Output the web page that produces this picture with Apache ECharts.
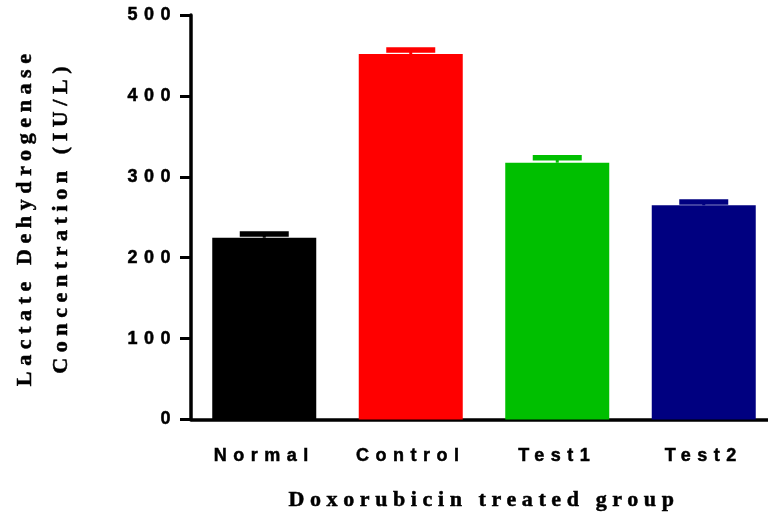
<!DOCTYPE html>
<html>
<head>
<meta charset="utf-8">
<style>html,body{margin:0;padding:0;background:#fff;}#chart{width:768px;height:516px;}</style>
<script src="https://cdn.jsdelivr.net/npm/echarts@6/dist/echarts.min.js"></script>
</head>
<body>
<div id="chart"></div>
<script>
// ---- data ----
const categories = ['Normal', 'Control', 'Test1', 'Test2'];
const meanValues = [224.7, 451.8, 317.4, 264.8];
const upperValues = [229.3, 456.7, 323.5, 268.8];
const barColors = ['#000000', '#FF0000', '#00BF00', '#000080'];
const yTicks = [0, 100, 200, 300, 400, 500];
const xTitle = 'Doxorubicin treated group';
const yTitle = 'Lactate Dehydrogenase\nConcentration (IU/L)';

// letter-spaced text like the reference (text stays real text)
(function () {
  const proto = CanvasRenderingContext2D.prototype;
  ['fillText', 'strokeText'].forEach(function (fn) {
    const orig = proto[fn];
    proto[fn] = function () {
      if ('letterSpacing' in this) {
        const prev = this.letterSpacing;
        this.letterSpacing = /22px/.test(this.font) ? '5.6px' : '6.5px';
        const r = orig.apply(this, arguments);
        this.letterSpacing = prev;
        return r;
      }
      return orig.apply(this, arguments);
    };
  });
})();

const sans = '"Liberation Sans", Arial, sans-serif';
const serif = '"Liberation Serif", "Times New Roman", serif';
const heavy = {textBorderColor: '#000', textBorderWidth: 0.5};

const chart = echarts.init(document.getElementById('chart'), null, {renderer: 'canvas'});
const option = {
  animation: false,
  backgroundColor: '#ffffff',
  grid: {left: 191, top: 15, width: 586, height: 404.5, containLabel: false, outerBoundsMode: 'none'},
  xAxis: {
    type: 'category',
    data: categories,
    name: xTitle,
    nameLocation: 'middle',
    nameGap: 69,
    nameTextStyle: Object.assign({fontFamily: serif, fontWeight: 'bold', fontSize: 22, lineHeight: 24, color: '#000'}, heavy),
    axisLine: {lineStyle: {color: '#000', width: 3.5}},
    axisTick: {alignWithLabel: true, length: 11, lineStyle: {color: '#000', width: 3}},
    axisLabel: Object.assign({interval: 0, margin: 28, fontFamily: sans, fontWeight: 'bold', fontSize: 18, lineHeight: 18, color: '#000'}, heavy),
    splitLine: {show: false}
  },
  yAxis: {
    type: 'value',
    min: yTicks[0],
    max: yTicks[yTicks.length - 1],
    interval: yTicks[1] - yTicks[0],
    name: yTitle,
    nameLocation: 'middle',
    nameRotate: 90,
    nameGap: 112,
    nameTextStyle: Object.assign({fontFamily: serif, fontWeight: 'bold', fontSize: 22, lineHeight: 36, color: '#000', align: 'center'}, heavy),
    axisLine: {show: true, lineStyle: {color: '#000', width: 3.5}},
    axisTick: {show: true, length: 11, lineStyle: {color: '#000', width: 3}},
    axisLabel: Object.assign({margin: 14, fontFamily: sans, fontWeight: 'bold', fontSize: 18, color: '#000'}, heavy),
    splitLine: {show: false}
  },
  series: [
    {
      type: 'bar',
      barWidth: 104,
      data: meanValues.map((v, i) => ({value: v, itemStyle: {color: barColors[i]}})),
      z: 2
    },
    {
      type: 'custom',
      z: 3,
      data: categories.map((c, i) => [i, meanValues[i], upperValues[i]]),
      renderItem: function (params, api) {
        const idx = api.value(0);
        const base = api.coord([idx, api.value(1)]);
        const top = api.coord([idx, api.value(2)]);
        const color = barColors[params.dataIndex];
        const capW = 49;
        return {
          type: 'group',
          children: [
            {type: 'line', shape: {x1: top[0], y1: base[1], x2: top[0], y2: top[1]}, style: {stroke: color, lineWidth: 3}},
            {type: 'line', shape: {x1: top[0] - capW / 2, y1: top[1], x2: top[0] + capW / 2, y2: top[1]}, style: {stroke: color, lineWidth: 5.5}}
          ]
        };
      }
    }
  ]
};
chart.setOption(option);
</script>
</body>
</html>
